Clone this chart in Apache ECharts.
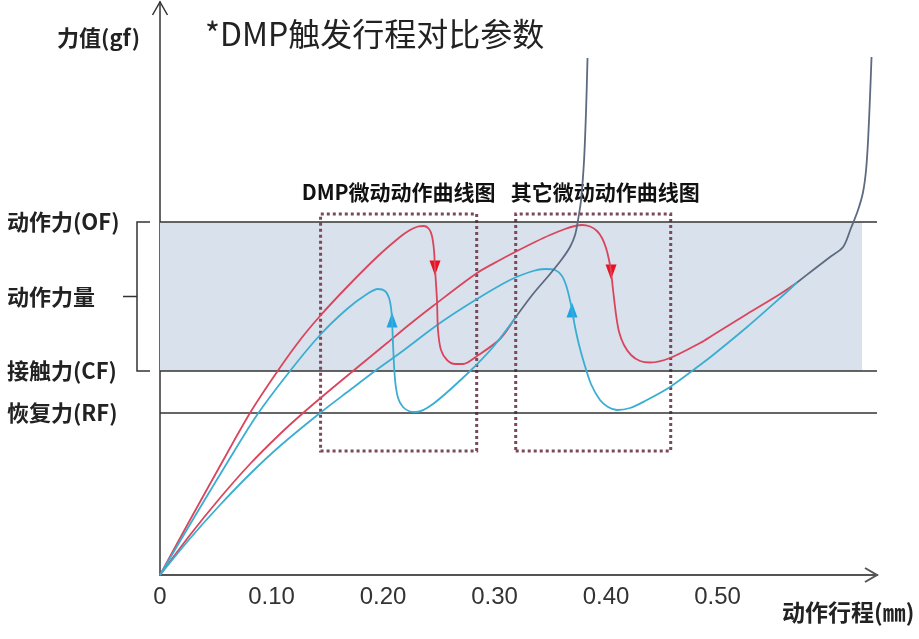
<!DOCTYPE html>
<html>
<head>
<meta charset="utf-8">
<script src="https://cdn.jsdelivr.net/npm/echarts@6/dist/echarts.min.js"></script>
<style>
    html, body { margin: 0; padding: 0; background: #fff; }
    #main { width: 919px; height: 639px; }
</style>
</head>
<body>
<div id="main"></div>
<script>
// 行程 (mm) / 力值 (gf)
var xMax = 0.643;
var yMax = 114.6;
var xTickValues = [0, 0.1, 0.2, 0.3, 0.4, 0.5];

// 参考力值
var OF = 70.6, CF = 40.8, RF = 32.4;
var yTickValues = [OF, (OF + CF) / 2, CF, RF];
var yTickNames = ['动作力(OF)', '动作力量', '接触力(CF)', '恢复力(RF)'];

// DMP 曲线
var dmpRed = [[0, 0], [0.0269, 11], [0.0538, 21.8], [0.0807, 32.4], [0.1049, 40.6], [0.1256, 47], [0.1435, 51.8],
    [0.1677, 57.6], [0.1946, 63.6], [0.2152, 67.6], [0.2242, 69], [0.2314, 69.7], [0.2368, 69.8], [0.2413, 69.2],
    [0.2439, 67.8], [0.2457, 65], [0.2466, 61.4], [0.2484, 55], [0.2493, 49], [0.2520, 45], [0.2574, 43],
    [0.2646, 42.2], [0.2717, 42.2], [0.2843, 43.8], [0.3049, 47.2]];
var dmpBlue = [[0, 0], [0.0314, 11.8], [0.0601, 22.4], [0.0870, 32], [0.1166, 40.8], [0.1435, 48], [0.1677, 53.2],
    [0.1857, 56.2], [0.1955, 57.2], [0.2018, 56.8], [0.2054, 55.4], [0.2072, 53.4], [0.2081, 51], [0.2090, 46],
    [0.2108, 39], [0.2135, 35.4], [0.2179, 33.6], [0.2242, 32.7], [0.2296, 32.6], [0.2448, 34.2], [0.2753, 40.2],
    [0.2987, 45.6]];
var dmpTail = [[0.3184, 51.4], [0.3345, 56.2], [0.3498, 60.2], [0.3605, 63.2], [0.3677, 65.6], [0.3722, 68],
    [0.3749, 71], [0.3776, 75], [0.3803, 83], [0.3821, 93], [0.3834, 103.4]];

// 其它微动曲线
var otherRed = [[0, 0], [0.0269, 8], [0.0538, 15.4], [0.0807, 22.2], [0.1076, 28.2], [0.1283, 32.4], [0.1525, 37],
    [0.1731, 40.8], [0.2036, 46.4], [0.2242, 50.2], [0.2448, 53.8], [0.2843, 60.4], [0.3049, 63], [0.3202, 64.8],
    [0.3363, 66.6], [0.3498, 68], [0.3632, 69.2], [0.3722, 69.8], [0.3785, 70], [0.3857, 69.7], [0.3919, 68.8],
    [0.3964, 67.4], [0.4000, 65.4], [0.4027, 63], [0.4045, 60.6], [0.4063, 57], [0.4090, 52], [0.4117, 48.6],
    [0.4161, 46], [0.4224, 44], [0.4305, 42.8], [0.4395, 42.5], [0.4574, 43.4], [0.4843, 46.4], [0.4960, 48],
    [0.5265, 52.2], [0.5561, 56.2]];
var otherBlue = [[0, 0], [0.0269, 7.3], [0.0538, 14], [0.0807, 20.2], [0.1076, 25.8], [0.1435, 32.4], [0.1704, 37],
    [0.1928, 40.8], [0.2152, 44.4], [0.2511, 50.4], [0.2843, 55.2], [0.3139, 59], [0.3345, 60.8], [0.3453, 61.2],
    [0.3543, 61], [0.3605, 59.8], [0.3641, 58], [0.3668, 55.8], [0.3695, 53], [0.3722, 49.6], [0.3758, 46],
    [0.3803, 42.4], [0.3865, 38.2], [0.3946, 35], [0.4018, 33.6], [0.4099, 33], [0.4215, 33.4], [0.4350, 34.8],
    [0.4574, 37.6], [0.4843, 42], [0.4960, 44], [0.5265, 49.6], [0.5561, 55.4]];
var otherTail = [[0.5713, 58.5], [0.5857, 61], [0.6009, 63.6], [0.6126, 65.6], [0.6197, 69.4], [0.6260, 73],
    [0.6305, 76.6], [0.6332, 81], [0.6350, 87], [0.6368, 96], [0.6381, 103.6]];

// 虚线框范围 [x0, x1, y0, y1]
var dmpBox = [0.144, 0.284, 24.8, 72.2];
var otherBox = [0.319, 0.458, 24.8, 72.2];
var shadeRight = 0.6296;

var RED = '#d9455c', BLUE = '#3aaed2', TAIL = '#5d6a80';
var CJK = '"Noto Sans CJK SC", sans-serif';

function pick(arr, x) {
    return arr.filter(function (p) { return p[0] === x; })[0];
}

function curve(name, data, color, arrow, up) {
    return {
        name: name,
        type: 'line',
        data: data,
        smooth: 0.3,
        showSymbol: false,
        z: 5,
        lineStyle: { color: color, width: 1.8 },
        markPoint: arrow ? {
            silent: true,
            symbol: 'triangle',
            symbolSize: [11, 15],
            symbolRotate: up ? 0 : 180,
            itemStyle: { color: up ? '#1ea5e6' : '#e8131f' },
            label: { show: false },
            data: [{ coord: arrow }]
        } : undefined
    };
}

var chart = echarts.init(document.getElementById('main'));
var option = {
    animation: false,
    backgroundColor: '#fff',
    title: {
        text: '*DMP触发行程对比参数',
        left: 205,
        top: 18,
        padding: 0,
        textStyle: { fontFamily: CJK, fontSize: 32, fontWeight: 'normal', color: '#222' }
    },
    grid: {
        left: 160,
        right: 42,
        top: 2,
        bottom: 64,
        containLabel: false,
        outerBoundsMode: 'none'
    },
    xAxis: {
        type: 'value',
        min: 0,
        max: xMax,
        name: '动作行程(㎜)',
        nameLocation: 'end',
        nameGap: -95,
        nameTextStyle: {
            fontFamily: CJK, fontSize: 23, fontWeight: 'bold', color: '#222',
            align: 'left', verticalAlign: 'top', padding: [26, 0, 0, 0]
        },
        axisLine: { lineStyle: { color: '#555', width: 2 } },
        axisTick: { show: false },
        splitLine: { show: false },
        axisLabel: {
            customValues: xTickValues,
            margin: 10,
            color: '#333',
            fontSize: 24,
            fontFamily: '"Liberation Sans", Arial, sans-serif',
            formatter: function (v) { return v === 0 ? '0' : v.toFixed(2); }
        }
    },
    yAxis: {
        type: 'value',
        min: 0,
        max: yMax,
        name: '力值(gf)',
        nameLocation: 'end',
        nameGap: -36,
        nameTextStyle: {
            fontFamily: CJK, fontSize: 22, fontWeight: 'bold', color: '#222',
            align: 'right', verticalAlign: 'middle', padding: [0, 20, 0, 0]
        },
        axisLine: { lineStyle: { color: '#333', width: 1.5 } },
        axisTick: { show: false },
        splitLine: { show: false },
        axisLabel: {
            customValues: yTickValues,
            margin: 153,
            align: 'left',
            color: '#222',
            fontSize: 22,
            fontWeight: 'bold',
            fontFamily: CJK,
            formatter: function (v) {
                for (var i = 0; i < yTickValues.length; i++) {
                    if (Math.abs(yTickValues[i] - v) < 0.01) return yTickNames[i];
                }
                return '';
            }
        }
    },
    series: [
        {
            name: '参考',
            type: 'line',
            data: [],
            z: 1,
            markArea: {
                silent: true,
                itemStyle: { color: '#d9e1ec' },
                data: [[{ coord: [0, CF] }, { coord: [shadeRight, OF] }]]
            },
            markLine: {
                silent: true,
                symbol: 'none',
                label: { show: false },
                lineStyle: { color: '#333', width: 1.5, type: 'solid' },
                data: [{ yAxis: OF }, { yAxis: CF }, { yAxis: RF }]
            }
        },
        {
            name: '框',
            type: 'line',
            data: [],
            z: 3,
            markArea: {
                silent: true,
                itemStyle: { color: 'rgba(0,0,0,0)', borderColor: '#7b4a5a', borderWidth: 3, borderType: [3, 3] },
                label: {
                    show: true,
                    position: 'top',
                    distance: 10,
                    color: '#111',
                    fontFamily: CJK,
                    fontWeight: 'bold',
                    fontSize: 21
                },
                data: [
                    [{ name: 'DMP微动动作曲线图', coord: [dmpBox[0], dmpBox[2]] }, { coord: [dmpBox[1], dmpBox[3]] }],
                    [{ name: '其它微动动作曲线图', coord: [otherBox[0], otherBox[2]], label: { offset: [12, 0] } },
                        { coord: [otherBox[1], otherBox[3]] }]
                ]
            }
        },
        curve('其它-红', otherRed.concat([otherTail[0]]), RED, pick(otherRed, 0.4045), false),
        curve('其它-蓝', otherBlue.concat([otherTail[0]]), BLUE, pick(otherBlue, 0.3695), true),
        curve('其它-合', otherTail, TAIL),
        curve('DMP-红', dmpRed.concat([dmpTail[0]]), RED, pick(dmpRed, 0.2466), false),
        curve('DMP-蓝', dmpBlue.concat([dmpTail[0]]), BLUE, pick(dmpBlue, 0.2081), true),
        curve('DMP-合', dmpTail, TAIL)
    ]
};
chart.setOption(option);

// 坐标轴箭头和动作力量括号
var toPx = function (p) { return chart.convertToPixel({ gridIndex: 0 }, p); };
var o = toPx([0, 0]);
var xe = toPx([xMax, 0]);
var ye = toPx([0, yMax]);
var yOF = toPx([0, OF])[1];
var yCF = toPx([0, CF])[1];
var yMid = toPx([0, (OF + CF) / 2])[1];
var bx = o[0] - 23;
chart.setOption({
    graphic: [
        {
            type: 'polyline', silent: true,
            shape: { points: [[xe[0] - 12, xe[1] - 7], [xe[0], xe[1]], [xe[0] - 12, xe[1] + 7]] },
            style: { stroke: '#555', lineWidth: 2, fill: null }
        },
        {
            type: 'polyline', silent: true,
            shape: { points: [[ye[0] - 7.5, ye[1] + 13], [ye[0], ye[1]], [ye[0] + 7.5, ye[1] + 13]] },
            style: { stroke: '#333', lineWidth: 1.5, fill: null }
        },
        {
            type: 'polyline', silent: true,
            shape: { points: [[bx + 13, yOF], [bx, yOF], [bx, yCF], [bx + 13, yCF]] },
            style: { stroke: '#333', lineWidth: 1.5, fill: null }
        },
        {
            type: 'line', silent: true,
            shape: { x1: bx - 14, y1: yMid, x2: bx, y2: yMid },
            style: { stroke: '#333', lineWidth: 1.5 }
        }
    ]
});
</script>
</body>
</html>
